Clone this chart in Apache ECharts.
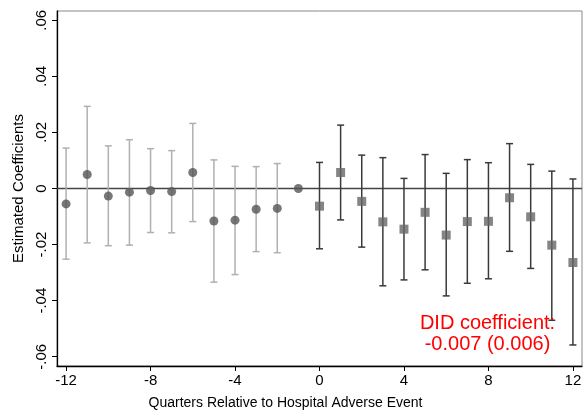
<!DOCTYPE html>
<html><head><meta charset="utf-8">
<script src="https://cdn.jsdelivr.net/npm/echarts@6/dist/echarts.min.js"></script>
<style>html,body{margin:0;padding:0;background:#fff}#c{width:585px;height:415px}</style>
</head><body><div id="c"></div>
<script>
// Pre-event quarters (circles)
const preQuarters = [-12,-11,-10,-9,-8,-7,-6,-5,-4,-3,-2,-1];
const preCoef     = [-0.0055,0.0050,-0.0027,-0.0013,-0.0007,-0.0011,0.0057,-0.0116,-0.0113,-0.0074,-0.0071,0.0000];
const preLow      = [-0.0252,-0.0194,-0.0204,-0.0202,-0.0157,-0.0158,-0.0118,-0.0334,-0.0307,-0.0225,-0.0229,null];
const preHigh     = [0.0144,0.0293,0.0152,0.0174,0.0142,0.0135,0.0232,0.0102,0.0079,0.0078,0.0089,null];
// Post-event quarters (squares)
const postQuarters = [0,1,2,3,4,5,6,7,8,9,10,11,12];
const postCoef     = [-0.0063,0.0057,-0.0046,-0.0119,-0.0145,-0.0085,-0.0166,-0.0118,-0.0117,-0.0033,-0.0101,-0.0202,-0.0264];
const postLow      = [-0.0215,-0.0112,-0.0209,-0.0347,-0.0326,-0.0290,-0.0383,-0.0338,-0.0322,-0.0224,-0.0285,-0.0470,-0.0558];
const postHigh     = [0.0093,0.0226,0.0119,0.0110,0.0036,0.0121,0.0054,0.0103,0.0092,0.0160,0.0086,0.0062,0.0034];
// Tick labels
const xTicks = [-12,-8,-4,0,4,8,12];
const yTicks = [-0.06,-0.04,-0.02,0,0.02,0.04,0.06];
const didText = 'DID coefficient:\n-0.007 (0.006)';

const FONT = 'Liberation Sans, Arial, Helvetica, sans-serif';
function fmtY(v){
  if (Math.abs(v) < 1e-9) return '0';
  const s = v.toFixed(2);
  return s.replace('0.', '.');
}
function ciData(q, lo, hi){
  const out = [];
  for (let i=0;i<q.length;i++) if (lo[i]!==null && hi[i]!==null) out.push([q[i], lo[i], hi[i]]);
  return out;
}
function ciRender(color){
  return function(params, api){
    const x = api.value(0), lo = api.value(1), hi = api.value(2);
    const a = api.coord([x, hi]), b = api.coord([x, lo]);
    const hw = 3.5;
    const st = {stroke: color, lineWidth: 1.5, fill: null};
    return {type:'group', children:[
      {type:'line', shape:{x1:a[0],y1:a[1],x2:b[0],y2:b[1]}, style:st},
      {type:'line', shape:{x1:a[0]-hw,y1:a[1],x2:a[0]+hw,y2:a[1]}, style:st},
      {type:'line', shape:{x1:b[0]-hw,y1:b[1],x2:b[0]+hw,y2:b[1]}, style:st}
    ]};
  };
}
const chart = echarts.init(document.getElementById('c'), null, {renderer:'canvas'});
chart.setOption({
  animation:false,
  backgroundColor:'#fff',
  grid:{left:57, right:3, top:11, bottom:43, show:true, borderColor:'#888', borderWidth:1},
  xAxis:{type:'value', min:-12.43, max:12.43,
    name:'Quarters Relative to Hospital Adverse Event', nameLocation:'middle', nameGap:30,
    nameTextStyle:{fontFamily:FONT, fontSize:14, color:'#000', padding:[0,68,0,0]},
    axisLine:{show:true, onZero:false, lineStyle:{color:'#000', width:1.3}},
    axisTick:{show:true, length:5, customValues:xTicks, lineStyle:{color:'#000'}},
    axisLabel:{customValues:xTicks, fontFamily:FONT, fontSize:15, color:'#000', margin:7,
      formatter:v=>String(v)},
    splitLine:{show:false}},
  yAxis:{type:'value', min:-0.0633, max:0.0633,
    name:'Estimated Coefficients', nameLocation:'middle', nameGap:27,
    nameTextStyle:{fontFamily:FONT, fontSize:15, color:'#000'},
    axisLine:{show:true, onZero:false, lineStyle:{color:'#000', width:1.3}},
    axisTick:{show:true, length:5, customValues:yTicks, lineStyle:{color:'#000'}},
    axisLabel:{customValues:yTicks, rotate:90, fontFamily:FONT, fontSize:15, color:'#000', margin:8,
      formatter:fmtY},
    splitLine:{show:false}},
  series:[
    {type:'line', data:[[-12.43,0],[12.43,0]], symbol:'none', lineStyle:{color:'#444', width:1.3}, silent:true, z:1},
    {type:'custom', data:ciData(preQuarters, preLow, preHigh), renderItem:ciRender('#b0b0b0'), z:2},
    {type:'custom', data:ciData(postQuarters, postLow, postHigh), renderItem:ciRender('#3a3a3a'), z:2},
    {type:'scatter', data:preQuarters.map((q,i)=>[q,preCoef[i]]), symbol:'circle', symbolSize:9,
      itemStyle:{color:'#555'}, z:3},
    {type:'scatter', data:postQuarters.map((q,i)=>[q,postCoef[i]]), symbol:'rect', symbolSize:9,
      itemStyle:{color:'#666'}, z:3}
  ],
  graphic:[{type:'text', x:487.5, y:313, z:10,
    style:{text:didText, fontFamily:FONT, fontSize:20, fill:'#ff0000', align:'center', verticalAlign:'top', lineHeight:21}}]
});
</script></body></html>
